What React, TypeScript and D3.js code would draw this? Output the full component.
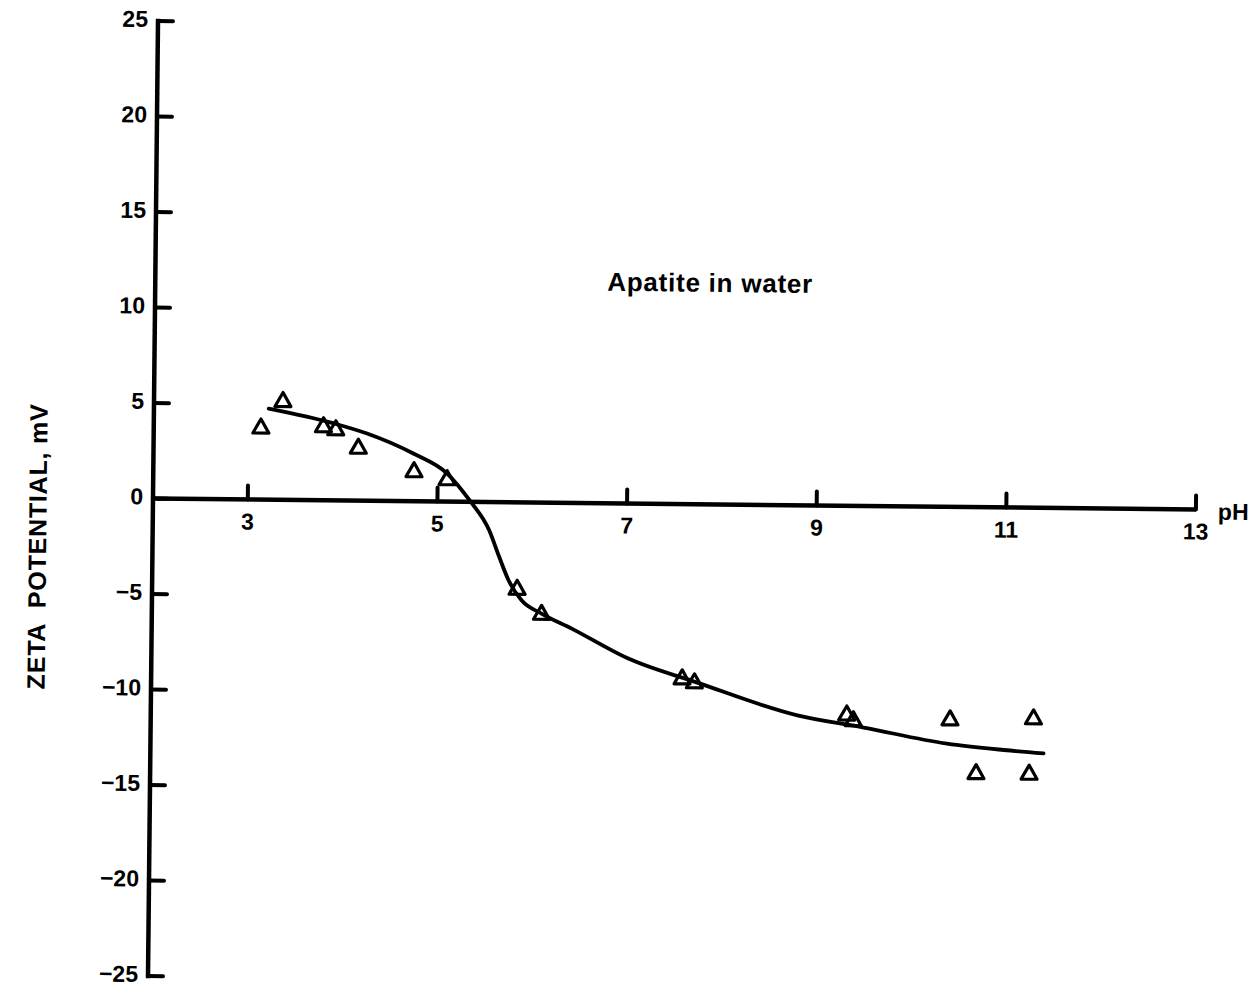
import React from "react";
import * as d3 from "d3";

// Measured zeta potential of apatite in water (open triangles)
const pointPH = [3.13, 3.36, 3.79, 3.92, 4.16, 4.75, 5.1, 5.85, 6.11, 7.6, 7.73, 9.34, 9.41, 10.43, 10.71, 11.31, 11.27];
const pointZeta = [3.8, 5.2, 3.9, 3.75, 2.8, 1.6, 1.2, -4.5, -5.8, -9.1, -9.3, -10.9, -11.2, -11.1, -13.9, -11.0, -13.9];

// Smoothed trend curve drawn through the data
const curvePH = [3.21, 3.9, 4.25, 4.74, 5.1, 5.34, 5.55, 5.66, 5.76, 5.9, 6.11, 6.43, 7.03, 7.76, 8.82, 9.52, 10.4, 11.0, 11.42];
const curveZeta = [4.77, 4.03, 3.52, 2.5, 1.47, 0.07, -1.49, -2.9, -4.1, -5.14, -5.81, -6.58, -8.12, -9.34, -11.0, -11.6, -12.4, -12.7, -12.86];

const xTicks = [3, 5, 7, 9, 11, 13];
const yTicks = [25, 20, 15, 10, 5, 0, -5, -10, -15, -20, -25];

const W = 1257;
const H = 992;
const FONT = "'Liberation Sans', Arial, sans-serif";

export default function App() {
  const x = d3.scaleLinear().domain([2, 13]).range([153, 1196]);
  const y = d3.scaleLinear().domain([-25, 25]).range([976, 21]);
  const x0 = x(2);
  const y0 = y(0);

  const curveData = curvePH.map((p, i) => [p, curveZeta[i]] as [number, number]);
  const line = d3
    .line<[number, number]>()
    .x((d) => x(d[0]))
    .y((d) => y(d[1]))
    .curve(d3.curveMonotoneX);

  const tri = "M0,-8 L8,6 L-8,6 Z";
  const minus = (v: number) => (v < 0 ? "\u2212" + Math.abs(v) : String(v));

  return (
    <svg
      width={W}
      height={H}
      viewBox={`0 0 ${W} ${H}`}
      style={{ position: "absolute", left: 0, top: 0, background: "#fff" }}
    >
      <rect x={0} y={0} width={W} height={H} fill="#fff" />
      <g transform={`rotate(0.6 ${x0} ${y0})`} fill="#000">
        {/* y axis */}
        <line x1={x0} y1={y(25)} x2={x0} y2={y(-25)} stroke="#000" strokeWidth={4.5} strokeLinecap="square" />
        {yTicks.map((t) => (
          <g key={"yt" + t}>
            <line x1={x0} x2={x0 + 15} y1={y(t)} y2={y(t)} stroke="#000" strokeWidth={4} strokeLinecap="round" />
            <text
              x={x0 - 10}
              y={y(t)}
              textAnchor="end"
              dominantBaseline="middle"
              fontFamily={FONT}
              fontWeight="bold"
              fontSize={23}
            >
              {minus(t)}
            </text>
          </g>
        ))}

        {/* x axis along zeta = 0 */}
        <line x1={x0} y1={y0} x2={x(13)} y2={y0} stroke="#000" strokeWidth={4.5} />
        {xTicks.map((t) => (
          <g key={"xt" + t}>
            <line x1={x(t)} x2={x(t)} y1={y0} y2={y0 - 14} stroke="#000" strokeWidth={4} strokeLinecap="round" />
            <text
              x={x(t)}
              y={y0 + 24}
              textAnchor="middle"
              dominantBaseline="middle"
              fontFamily={FONT}
              fontWeight="bold"
              fontSize={23}
            >
              {t}
            </text>
          </g>
        ))}
        <text x={x(13) + 22} y={y0 + 10} fontFamily={FONT} fontWeight="bold" fontSize={23}>
          pH
        </text>

        {/* axis title */}
        <text
          transform={`translate(40,548) rotate(-90)`}
          textAnchor="middle"
          dominantBaseline="middle"
          fontFamily={FONT}
          fontWeight="bold"
          fontSize={25}
          textLength={285}
          lengthAdjust="spacing"
          style={{ whiteSpace: "pre" }}
        >
          {"ZETA  POTENTIAL, mV"}
        </text>

        {/* annotation */}
        <text
          x={605}
          y={286}
          fontFamily={FONT}
          fontWeight="bold"
          fontSize={26}
          textLength={205}
          lengthAdjust="spacing"
        >
          Apatite in water
        </text>

        {/* trend curve */}
        <path d={line(curveData) || ""} fill="none" stroke="#000" strokeWidth={3.8} strokeLinecap="round" />

        {/* data points */}
        {pointPH.map((p, i) => (
          <path
            key={"pt" + i}
            d={tri}
            transform={`translate(${x(p)},${y(pointZeta[i])})`}
            fill="none"
            stroke="#000"
            strokeWidth={3.2}
            strokeLinejoin="round"
          />
        ))}
      </g>
    </svg>
  );
}
